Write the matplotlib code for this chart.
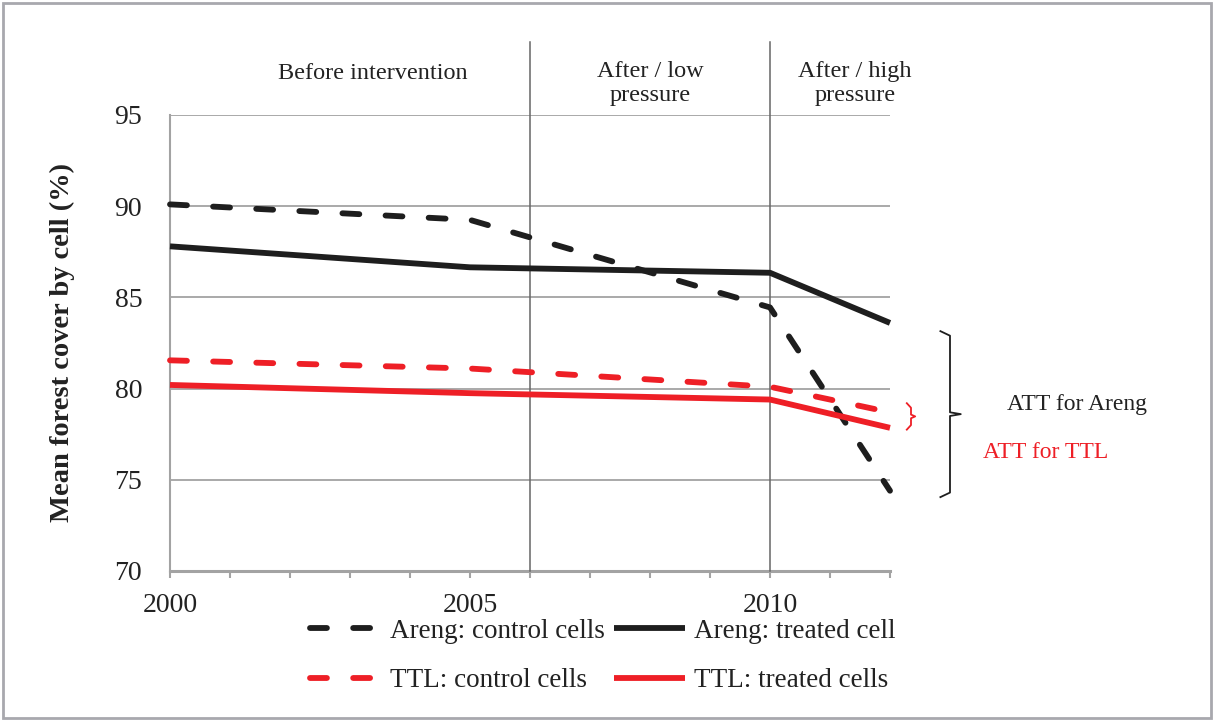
import matplotlib
matplotlib.use("Agg")
import matplotlib.pyplot as plt
from matplotlib.patches import Rectangle

plt.rcParams['font.family'] = ['Liberation Serif', 'DejaVu Serif']

years = [2000, 2005, 2010, 2012]
areng_control = [90.1, 89.25, 84.45, 74.4]
areng_treated = [87.8, 86.65, 86.35, 83.6]
ttl_control = [81.55, 81.1, 80.1, 78.7]
ttl_treated = [80.2, 79.75, 79.4, 77.85]

period_bounds = [2006, 2010]
period_labels = ["Before intervention", "After / low\npressure", "After / high\npressure"]
period_label_x = [2003.38, 2008.0, 2011.42]

series_labels = ["Areng: control cells", "Areng: treated cell",
                 "TTL: control cells", "TTL: treated cells"]
att_labels = ["ATT for Areng", "ATT for TTL"]

BLACK = '#1e1e1e'
RED = '#ee1f26'
GRID = '#a3a3a3'

fig = plt.figure(figsize=(12.13, 7.2), dpi=100)
W, H = 1213, 720
ax = fig.add_axes([170 / W, 1 - 571 / H, 720 / W, 456 / H])

ax.set_xlim(2000, 2012)
ax.set_ylim(70, 95)

dash = (2.9, 4.5)
lw = 4.2
l1, = ax.plot(years, areng_control, color=BLACK, lw=lw, dashes=dash,
              dash_capstyle='round', solid_joinstyle='round', zorder=4)
l2, = ax.plot(years, areng_treated, color=BLACK, lw=lw, solid_capstyle='butt',
              solid_joinstyle='round', zorder=4)
l3, = ax.plot(years, ttl_control, color=RED, lw=lw, dashes=dash,
              dash_capstyle='round', zorder=4)
l4, = ax.plot(years, ttl_treated, color=RED, lw=lw, solid_capstyle='butt',
              solid_joinstyle='round', zorder=4)
for l in (l1, l2, l3, l4):
    l.set_clip_on(False)

# grid
ax.set_yticks([70, 75, 80, 85, 90, 95])
ax.yaxis.grid(True, color=GRID, lw=1.3)
ax.set_axisbelow(True)
ax.set_xticks([2000, 2005, 2010])
ax.set_xticks(list(range(2000, 2013)), minor=True)
ax.tick_params(axis='x', which='both', direction='out', length=5, width=1.5,
               color=GRID, labelsize=20, pad=11, labelcolor='#222222')
ax.tick_params(axis='y', length=0, labelsize=20, pad=20, labelcolor='#222222')
for s in ('top', 'right'):
    ax.spines[s].set_visible(False)
ax.spines['left'].set_color(GRID)
ax.spines['left'].set_linewidth(1.5)
ax.spines['bottom'].set_color(GRID)
ax.spines['bottom'].set_linewidth(2.2)

# period separators
for xb in period_bounds:
    ax.axvline(xb, ymin=0, ymax=(571 - 42) / 456, color='#666666', lw=1.1,
               clip_on=False, zorder=3)

for lab, xl in zip(period_labels, period_label_x):
    ax.text(xl, 96.72 if '\n' in lab else 97.3, lab, ha='center', va='center',
            fontsize=17.5, color='#222222', linespacing=1.15, clip_on=False)

fig.text(62 / W, 1 - 342 / H, "Mean forest cover by cell (%)", rotation=90,
         ha='center', va='center', fontsize=20.5, fontweight='bold', color='#222222')

# ATT brackets
def brace(x, top, bottom, tip, hook, color, lwid):
    mid = (top + bottom) / 2
    k = 0.25
    xs = [x - hook, x, x, x + tip, x, x, x - hook]
    ys = [top, top - k, mid + k * 0.4, mid, mid - k * 0.4, bottom + k, bottom]
    ax.plot(xs, ys, color=color, lw=lwid, clip_on=False, solid_joinstyle='round')

brace(2013.0, areng_treated[-1] - 0.45, areng_control[-1] - 0.35, 0.18, 0.16, BLACK, 1.3)
brace(2012.35, ttl_control[-1] + 0.5, ttl_treated[-1] - 0.1, 0.07, 0.07, RED, 1.3)

ax.text(2013.95, 79.15, att_labels[0], ha='left', va='center', fontsize=17,
        color='#222222', clip_on=False)
ax.text(2013.55, 76.52, att_labels[1], ha='left', va='center', fontsize=17,
        color=RED, clip_on=False)

# legend (column-major order)
handles = [l1, l3, l2, l4]
labels = [series_labels[0], series_labels[2], series_labels[1], series_labels[3]]
fig.legend(handles, labels, ncol=2, loc='center',
           bbox_to_anchor=(603 / W, 1 - 656 / H), frameon=False, fontsize=19.5,
           handlelength=2.6, handletextpad=0.35, columnspacing=0.35,
           labelspacing=0.9, borderpad=0, borderaxespad=0,
           labelcolor='#222222')

# figure border
fig.patches.append(Rectangle((3 / W, 2 / H), 1208 / W, 715 / H, transform=fig.transFigure,
                             fill=False, edgecolor='#a8a8ae', lw=2))

fig.savefig("out.png", dpi=100)
